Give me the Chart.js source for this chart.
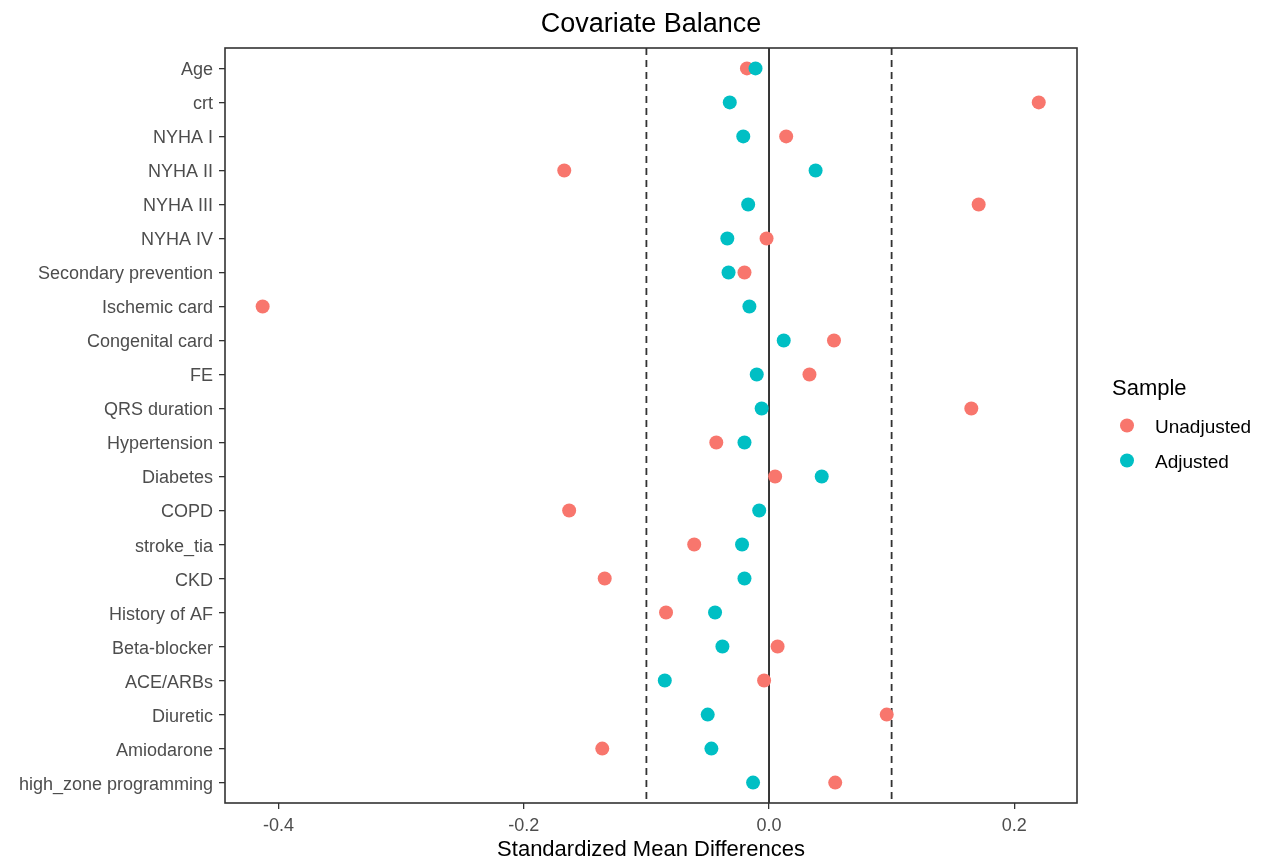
<!DOCTYPE html>
<html>
<head>
<meta charset="utf-8">
<title>Covariate Balance</title>
<script src="https://cdn.jsdelivr.net/npm/chart.js@4.4.1/dist/chart.umd.min.js"></script>
<style>
  body { margin: 0; background: #fff; }
  canvas { display: block; }
</style>
</head>
<body>
<canvas id="balance" width="1261" height="861"></canvas>
<script>
// covariates, top to bottom
const covariates = [
  'Age', 'crt', 'NYHA I', 'NYHA II', 'NYHA III', 'NYHA IV',
  'Secondary prevention', 'Ischemic card', 'Congenital card', 'FE',
  'QRS duration', 'Hypertension', 'Diabetes', 'COPD', 'stroke_tia', 'CKD',
  'History of AF', 'Beta-blocker', 'ACE/ARBs', 'Diuretic', 'Amiodarone',
  'high_zone programming'
];
const unadjusted = [
  -0.018, 0.220, 0.014, -0.167, 0.171, -0.002,
  -0.020, -0.413, 0.053, 0.033,
  0.165, -0.043, 0.005, -0.163, -0.061, -0.134,
  -0.084, 0.007, -0.004, 0.096, -0.136,
  0.054
];
const adjusted = [
  -0.011, -0.032, -0.021, 0.038, -0.017, -0.034,
  -0.033, -0.016, 0.012, -0.010,
  -0.006, -0.020, 0.043, -0.008, -0.022, -0.020,
  -0.044, -0.038, -0.085, -0.050, -0.047,
  -0.013
];
const sampleNames = ['Unadjusted', 'Adjusted'];
const sampleColors = ['#F8766D', '#00BFC4'];
const xTicks = [-0.4, -0.2, 0.0, 0.2];
const thresholds = [-0.1, 0.1];

const FONT = '"Liberation Sans", Arial, sans-serif';

const balancePlugin = {
  id: 'balanceDecor',
  beforeDatasetsDraw(chart) {
    const { ctx, chartArea, scales } = chart;
    const x = scales.x;
    ctx.save();
    ctx.strokeStyle = '#333333';
    ctx.lineWidth = 1.8;
    ctx.setLineDash([7, 5]);
    thresholds.forEach(t => {
      const px = x.getPixelForValue(t);
      ctx.beginPath();
      ctx.moveTo(px, chartArea.top);
      ctx.lineTo(px, chartArea.bottom);
      ctx.stroke();
    });
    ctx.setLineDash([]);
    const zx = x.getPixelForValue(0);
    ctx.strokeStyle = '#222222';
    ctx.beginPath();
    ctx.moveTo(zx, chartArea.top);
    ctx.lineTo(zx, chartArea.bottom);
    ctx.stroke();
    ctx.restore();
  },
  afterDraw(chart) {
    const { ctx, chartArea } = chart;
    ctx.save();
    // panel border
    ctx.strokeStyle = '#333333';
    ctx.lineWidth = 1.6;
    ctx.strokeRect(chartArea.left, chartArea.top,
      chartArea.right - chartArea.left, chartArea.bottom - chartArea.top);

    // title
    ctx.fillStyle = '#000';
    ctx.font = '27px ' + FONT;
    ctx.textAlign = 'center';
    ctx.textBaseline = 'alphabetic';
    ctx.fillText('Covariate Balance', (chartArea.left + chartArea.right) / 2, 32);

    // legend
    const mid = (chartArea.top + chartArea.bottom) / 2;
    ctx.textAlign = 'left';
    ctx.font = '22px ' + FONT;
    ctx.fillText('Sample', chartArea.right + 35, mid - 31);
    ctx.font = '19px ' + FONT;
    sampleNames.forEach((name, i) => {
      const cy = mid + i * 35;
      ctx.fillStyle = sampleColors[i];
      ctx.beginPath();
      ctx.arc(chartArea.right + 50, cy, 7, 0, Math.PI * 2);
      ctx.fill();
      ctx.fillStyle = '#000';
      ctx.fillText(name, chartArea.right + 78, cy + 7);
    });
    ctx.restore();
  }
};

new Chart(document.getElementById('balance'), {
  type: 'scatter',
  data: {
    datasets: [
      {
        label: sampleNames[0],
        data: unadjusted.map((v, i) => ({ x: v, y: i })),
        backgroundColor: sampleColors[0],
        borderWidth: 0,
        pointRadius: 7,
        order: 1
      },
      {
        label: sampleNames[1],
        data: adjusted.map((v, i) => ({ x: v, y: i })),
        backgroundColor: sampleColors[1],
        borderWidth: 0,
        pointRadius: 7,
        order: 0
      }
    ]
  },
  options: {
    responsive: false,
    devicePixelRatio: 1,
    animation: false,
    layout: { padding: { top: 48, right: 184, bottom: 0, left: 0 } },
    plugins: {
      legend: { display: false },
      title: { display: false },
      tooltip: { enabled: false }
    },
    scales: {
      x: {
        type: 'linear',
        min: -0.4437,
        max: 0.2512,
        afterBuildTicks: scale => {
          scale.ticks = xTicks.map(v => ({ value: v }));
        },
        afterFit: scale => { scale.height = 58; },
        ticks: {
          color: '#4D4D4D',
          font: { family: FONT, size: 18 },
          padding: 6,
          maxRotation: 0,
          callback: v => Number(v).toFixed(1)
        },
        grid: {
          drawOnChartArea: false,
          drawTicks: true,
          tickLength: 6,
          color: '#333333',
          lineWidth: 1.3
        },
        border: { display: false },
        title: {
          display: true,
          text: 'Standardized Mean Differences',
          color: '#000',
          font: { family: FONT, size: 22 },
          padding: { top: 0, bottom: -2 }
        }
      },
      y: {
        type: 'linear',
        reverse: true,
        min: -0.6,
        max: covariates.length - 0.4,
        afterBuildTicks: scale => {
          scale.ticks = covariates.map((c, i) => ({ value: i }));
        },
        afterFit: scale => { scale.width = 225; },
        ticks: {
          color: '#4D4D4D',
          font: { family: FONT, size: 18 },
          padding: 6,
          labelOffset: 2,
          autoSkip: false,
          callback: v => covariates[v]
        },
        grid: {
          drawOnChartArea: false,
          drawTicks: true,
          tickLength: 6,
          color: '#333333',
          lineWidth: 1.3
        },
        border: { display: false }
      }
    }
  },
  plugins: [balancePlugin]
});
</script>
</body>
</html>
